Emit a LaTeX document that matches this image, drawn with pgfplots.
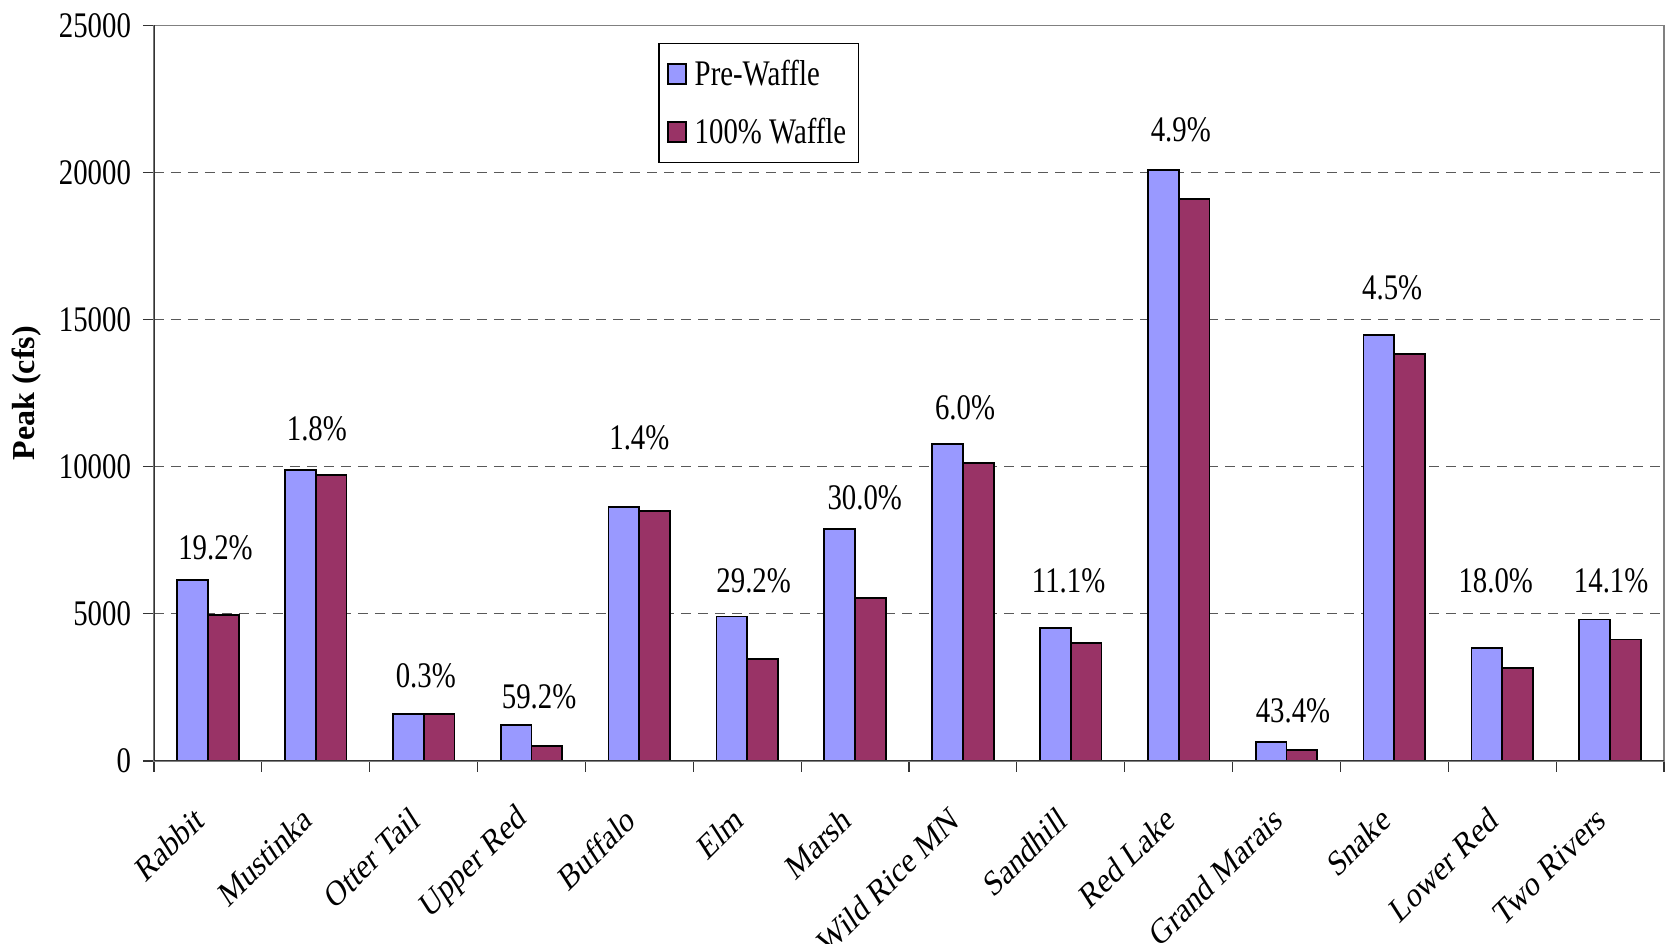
\documentclass[border=0pt]{standalone}
\usepackage{pgfplots}
\pgfplotsset{compat=1.18}
\usepackage{pgfplotstable}
\usepackage{fontspec}
\setmainfont{Liberation Serif}[FakeStretch=0.80]
\newfontfamily\uprm{Liberation Serif}
\usetikzlibrary{calc}
\definecolor{prew}{HTML}{9999FF}
\definecolor{waf}{HTML}{993366}

\pgfplotstableread{
x pre waf
0 6150 4970
1 9900 9720
2 1600 1595
3 1230 502
4 8630 8510
5 4910 3460
6 7880 5530
7 10770 10120
8 4520 4020
9 20090 19110
10 650 368
11 14490 13840
12 3830 3150
13 4810 4130
}\bars

\pgfplotstableread{
x y lab
0.07 7262 19.2
1.01 11308 1.8
2.02 2890 0.3
3.07 2168 59.2
4.00 10983 1.4
5.06 6142 29.2
6.09 8960 30.0
7.02 11994 6.0
7.98 6142 11.1
9.02 21460 4.9
10.06 1698 43.4
10.98 16077 4.5
11.94 6142 18.0
13.01 6142 14.1
}\labs

\begin{document}
\begin{tikzpicture}
\begin{axis}[
  name=ax,
  scale only axis,
  width=755pt, height=367.75pt,
  xmin=-0.5, xmax=13.5,
  ymin=0, ymax=25000,
  scaled y ticks=false, scaled x ticks=false,
  ytick={0,5000,10000,15000,20000,25000},
  yticklabels={0,5000,10000,15000,20000,25000},
  xtick={-0.5,0.5,...,13.5},
  xticklabels={},
  xtick pos=bottom, ytick pos=left,
  extra x ticks={0,1,2,3,4,5,6,7,8,9,10,11,12,13},
  extra x tick labels={Rabbit,Mustinka,Otter Tail,Upper Red,Buffalo,Elm,Marsh,Wild Rice MN,Sandhill,Red Lake,Grand Marais,Snake,Lower Red,Two Rivers},
  extra x tick style={major tick length=0pt, xticklabel style={yshift=-24.5pt, xshift=-2pt, xscale=0.8, rotate=38.66, anchor=east, font=\uprm\fontsize{18}{18}\selectfont}},
  tick align=outside,
  major tick length=5.5pt,
  tick style={black!80, line width=0.6pt},
  yticklabel style={font=\fontsize{18}{18}\selectfont, xshift=-2.5pt},
  ymajorgrids,
  grid style={dashed, black!65, line width=0.6pt, dash pattern=on 5pt off 3.5pt},
  axis line style={black!50, line width=0.9pt},
  ylabel={Peak (cfs)},
  every axis y label/.style={at={(rel axis cs:0,0.5)}, xshift=-63.7pt, rotate=90, anchor=center, font=\uprm\bfseries\fontsize{16}{16}\selectfont},
  legend style={at={(0.334,0.976)}, anchor=north west, draw=black, line width=0.6pt, font=\fontsize{18}{18}\selectfont, row sep=11pt, inner xsep=4pt, inner ysep=6pt},
  legend cell align=left,
]
\addplot[ybar, bar width=15.4pt, bar shift=-7.7pt, fill=prew, draw=black, line width=0.9pt,
  legend image code/.code={\draw[fill=prew, draw=black, line width=0.9pt] (0pt,-5pt) rectangle (9pt,5pt);}]
  table[x=x, y=pre]{\bars};
\addlegendentry{\hspace{2pt}Pre-Waffle}
\addplot[ybar, bar width=15.4pt, bar shift=7.7pt, fill=waf, draw=black, line width=0.9pt,
  legend image code/.code={\draw[fill=waf, draw=black, line width=0.9pt] (0pt,-5pt) rectangle (9pt,5pt);}]
  table[x=x, y=waf]{\bars};
\addlegendentry{\hspace{2pt}100\% Waffle}
\addplot[draw=none, mark=none, forget plot, point meta=explicit symbolic,
  nodes near coords={\pgfplotspointmeta\%},
  every node near coord/.append style={anchor=center, inner sep=0pt, font=\fontsize{18}{18}\selectfont, text=black}]
  table[x=x, y=y, meta=lab]{\labs};
\draw[black!80, line width=0.9pt] (rel axis cs:0,1) -- (rel axis cs:0,0) -- (rel axis cs:1,0);
\end{axis}
\pgfresetboundingbox
\path[use as bounding box] ($(ax.south west)+(-77pt,-91.5pt)$) rectangle ($(ax.north east)+(1.5pt,12.75pt)$);
\end{tikzpicture}
\end{document}
